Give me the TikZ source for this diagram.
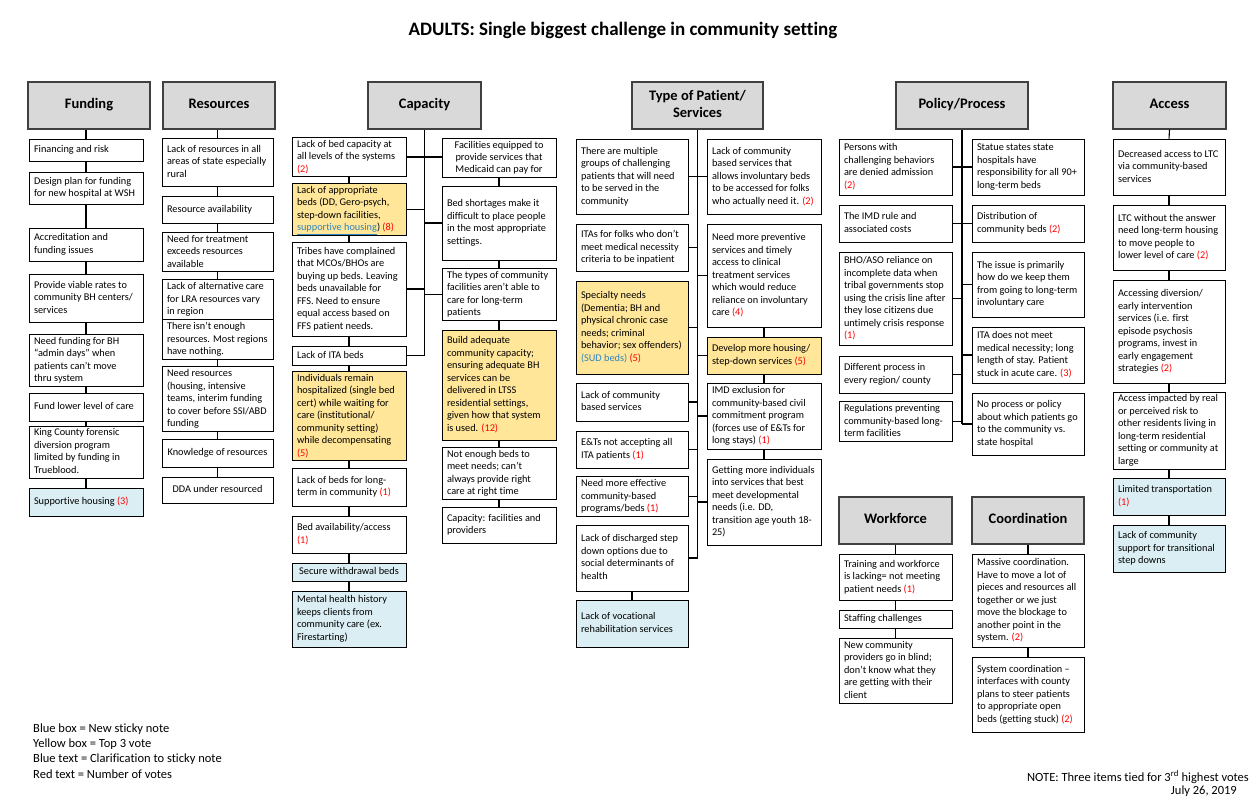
\documentclass[tikz,border=0pt]{standalone}
\usepackage{fontspec}
\setmainfont{Carlito}[Ligatures=NoCommon]
\definecolor{hdrfill}{HTML}{D9D9D9}
\definecolor{hdrline}{HTML}{404040}
\definecolor{yelfill}{HTML}{FFE699}
\definecolor{blufill}{HTML}{DAEEF3}
\definecolor{votered}{HTML}{FF0000}
\definecolor{clarblue}{HTML}{2E86C1}
\newcommand{\vote}[1]{\textcolor{votered}{#1}}
\newcommand{\clar}[1]{\textcolor{clarblue}{#1}}
\newcommand{\bx}[8]{%
  \pgfmathsetmacro{\bxw}{#4-#2}\pgfmathsetmacro{\bxh}{#5-#3}\pgfmathsetmacro{\bxt}{#4-#2-10}%
  \node[#6, minimum width=\bxw pt, minimum height=\bxh pt] (#1) at ({(#2+#4)/2},{(#3+#5)/2})
    {\makebox[\bxt pt][#7]{\begin{tabular}{@{}#7@{}}#8\end{tabular}}};}
\begin{document}
\begin{tikzpicture}[x=1pt,y=-1pt,
  item/.style={draw=black, line width=0.8pt, fill=white, inner xsep=5pt, inner ysep=1pt,
    font=\fontsize{10.3}{12.5}\selectfont},
  yel/.style={item, fill=yelfill},
  blu/.style={item, fill=blufill},
  hdr/.style={draw=hdrline, line width=1.2pt, fill=hdrfill, inner xsep=5pt,
    font=\bfseries\fontsize{14.5}{17}\selectfont},
  conn/.style={line width=1.1pt, draw=black},
  plain/.style={inner sep=0pt, font=\fontsize{12.5}{15}\selectfont}]
\useasboundingbox (0,0) rectangle (1249,797);

\node[inner sep=0pt, font=\bfseries\fontsize{19}{22}\selectfont] (title) at (623,30)
  {ADULTS: Single biggest challenge in community setting};

% ---------------- Funding
\bx{fh}{28}{82}{150}{129}{hdr}{c}{Funding}
\bx{f1}{29}{139}{143}{161}{item}{l}{Financing and risk}
\bx{f2}{29}{172}{143}{204}{item}{l}{Design plan for funding\\for new hospital at WSH}
\bx{f3}{29}{228}{143}{261}{item}{l}{Accreditation and\\funding issues}
\bx{f4}{29}{274}{143}{322}{item}{l}{Provide viable rates to\\community BH centers/\\services}
\bx{f5}{29}{337}{143}{384}{item}{l}{Need funding for BH\\“admin days” when\\patients can’t move\\thru system}
\bx{f6}{29}{393}{143}{421}{item}{l}{Fund lower level of care}
\bx{f7}{29}{426}{143}{478}{item}{l}{King County forensic\\diversion program\\limited by funding in\\Trueblood.}
\bx{f8}{29}{488}{143}{516}{blu}{l}{Supportive housing \vote{(3)}}

% ---------------- Resources
\bx{rh}{163}{82}{275}{129}{hdr}{c}{Resources}
\bx{r1}{162}{138}{273}{186}{item}{l}{Lack of resources in all\\areas of state especially\\rural}
\bx{r2}{162}{196}{273}{223}{item}{l}{Resource availability}
\bx{r3}{162}{233}{273}{271}{item}{l}{Need for treatment\\exceeds resources\\available}
\bx{r4}{162}{281}{273}{318}{item}{l}{Lack of alternative care\\for LRA resources vary\\in region}
\bx{r5}{162}{321}{273}{358}{item}{l}{There isn’t enough\\resources. Most regions\\have nothing.}
\bx{r6}{162}{368}{273}{430}{item}{l}{Need resources\\(housing, intensive\\teams, interim funding\\to cover before SSI/ABD\\funding}
\bx{r7}{162}{439}{273}{467}{item}{c}{Knowledge of resources}
\bx{r8}{162}{477}{273}{503}{item}{c}{DDA under resourced}

% ---------------- Capacity
\bx{ch}{368}{82}{481}{129}{hdr}{c}{Capacity}
\bx{cl1}{292}{138}{406}{176}{item}{l}{Lack of bed capacity at\\all levels of the systems\\\vote{(2)}}
\bx{cl2}{292}{186}{406}{233}{yel}{l}{Lack of appropriate\\beds (DD, Gero-psych,\\step-down facilities,\\\clar{\underline{supportive housing}}) \vote{(8)}}
\bx{cl3}{292}{242}{406}{336}{item}{l}{Tribes have complained\\that MCOs/BHOs are\\buying up beds. Leaving\\beds unavailable for\\FFS. Need to ensure\\equal access based on\\FFS patient needs.}
\bx{cl4}{292}{346}{406}{365}{item}{l}{Lack of ITA beds}
\bx{cl5}{292}{374}{406}{458}{yel}{l}{Individuals remain\\hospitalized (single bed\\cert) while waiting for\\care (institutional/\\community setting)\\while decompensating\\\vote{(5)}}
\bx{cl6}{292}{468}{406}{506}{item}{l}{Lack of beds for long-\\term in community \vote{(1)}}
\bx{cl7}{292}{516}{406}{553}{item}{l}{Bed availability/access\\\vote{(1)}}
\bx{cl8}{292}{563}{406}{581}{blu}{c}{Secure withdrawal beds}
\bx{cl9}{292}{591}{406}{647}{blu}{l}{Mental health history\\keeps clients from\\community care (ex.\\Firestarting)}
\bx{cr1}{442}{139}{556}{177}{item}{c}{Facilities equipped to\\provide services that\\Medicaid can pay for}
\bx{cr2}{442}{186}{556}{260}{item}{l}{Bed shortages make it\\difficult to place people\\in the most appropriate\\settings.}
\bx{cr3}{442}{271}{556}{318}{item}{l}{The types of community\\facilities aren’t able to\\care for long-term\\patients}
\bx{cr4}{442}{330}{556}{440}{yel}{l}{Build adequate\\community capacity;\\ensuring adequate BH\\services can be\\delivered in LTSS\\residential settings,\\given how that system\\is used. \vote{(12)}}
\bx{cr5}{442}{450}{556}{497}{item}{l}{Not enough beds to\\meet needs; can’t\\always provide right\\care at right time}
\bx{cr6}{442}{507}{556}{543}{item}{l}{Capacity: facilities and\\providers}

% ---------------- Type of Patient / Services
\bx{th}{632}{82}{763}{129}{hdr}{c}{Type of Patient/\\Services}
\bx{tl1}{576}{139}{688}{214}{item}{l}{There are multiple\\groups of challenging\\patients that will need\\to be served in the\\community}
\bx{tl2}{576}{224}{688}{271}{item}{l}{ITAs for folks who don’t\\meet medical necessity\\criteria to be inpatient}
\bx{tl3}{576}{281}{688}{374}{yel}{l}{Specialty needs\\(Dementia; BH and\\physical chronic case\\needs; criminal\\behavior; sex offenders)\\\clar{(SUD beds)} \vote{(5)}}
\bx{tl4}{576}{383}{688}{421}{item}{l}{Lack of community\\based services}
\bx{tl5}{576}{431}{688}{468}{item}{l}{E\&Ts not accepting all\\ITA patients \vote{(1)}}
\bx{tl6}{576}{478}{688}{515}{item}{l}{Need more effective\\community-based\\programs/beds \vote{(1)}}
\bx{tl7}{576}{525}{688}{591}{item}{l}{Lack of discharged step\\down options due to\\social determinants of\\health}
\bx{tl8}{576}{600}{688}{647}{blu}{l}{Lack of vocational\\rehabilitation services}
\bx{tr1}{707}{139}{821}{214}{item}{l}{Lack of community\\based services that\\allows involuntary beds\\to be accessed for folks\\who actually need it. \vote{(2)}}
\bx{tr2}{707}{224}{821}{327}{item}{l}{Need more preventive\\services and timely\\access to clinical\\treatment services\\which would reduce\\reliance on involuntary\\care \vote{(4)}}
\bx{tr3}{707}{337}{821}{374}{yel}{l}{Develop more housing/\\step-down services \vote{(5)}}
\bx{tr4}{707}{383}{821}{449}{item}{l}{IMD exclusion for\\community-based civil\\commitment program\\(forces use of E\&Ts for\\long stays) \vote{(1)}}
\bx{tr5}{707}{459}{821}{545}{item}{l}{Getting more individuals\\into services that best\\meet developmental\\needs (i.e. DD,\\transition age youth 18-\\25)}

% ---------------- Policy / Process
\bx{ph}{896}{82}{1028}{129}{hdr}{c}{Policy/Process}
\bx{pl1}{839}{139}{952}{195}{item}{l}{Persons with\\challenging behaviors\\are denied admission\\\vote{(2)}}
\bx{pl2}{839}{205}{952}{242}{item}{l}{The IMD rule and\\associated costs}
\bx{pl3}{839}{252}{952}{345}{item}{l}{BHO/ASO reliance on\\incomplete data when\\tribal governments stop\\using the crisis line after\\they lose citizens due\\untimely crisis response\\\vote{(1)}}
\bx{pl4}{839}{356}{952}{393}{item}{l}{Different process in\\every region/ county}
\bx{pl5}{839}{403}{952}{440}{item}{l}{Regulations preventing\\community-based long-\\term facilities}
\bx{pr1}{972}{139}{1084}{195}{item}{l}{Statue states state\\hospitals have\\responsibility for all 90+\\long-term beds}
\bx{pr2}{972}{205}{1084}{242}{item}{l}{Distribution of\\community beds \vote{(2)}}
\bx{pr3}{972}{252}{1084}{317}{item}{l}{The issue is primarily\\how do we keep them\\from going to long-term\\involuntary care}
\bx{pr4}{972}{327}{1084}{383}{item}{l}{ITA does not meet\\medical necessity; long\\length of stay. Patient\\stuck in acute care. \vote{(3)}}
\bx{pr5}{972}{393}{1084}{455}{item}{l}{No process or policy\\about which patients go\\to the community vs.\\state hospital}

% ---------------- Workforce
\bx{wh}{839}{497}{952}{544}{hdr}{c}{Workforce}
\bx{w1}{839}{554}{952}{600}{item}{l}{Training and workforce\\is lacking= not meeting\\patient needs \vote{(1)}}
\bx{w2}{839}{610}{952}{628}{item}{l}{Staffing challenges}
\bx{w3}{839}{638}{952}{703}{item}{l}{New community\\providers go in blind;\\don’t know what they\\are getting with their\\client}

% ---------------- Coordination
\bx{kh}{972}{497}{1084}{544}{hdr}{c}{Coordination}
\bx{k1}{972}{554}{1084}{647}{item}{l}{Massive coordination.\\Have to move a lot of\\pieces and resources all\\together or we just\\move the blockage to\\another point in the\\system. \vote{(2)}}
\bx{k2}{972}{657}{1084}{732}{item}{l}{System coordination –\\interfaces with county\\plans to steer patients\\to appropriate open\\beds (getting stuck) \vote{(2)}}

% ---------------- Access
\bx{ah}{1113}{82}{1226}{129}{hdr}{c}{Access}
\bx{a1}{1113}{139}{1225}{195}{item}{l}{Decreased access to LTC\\via community-based\\services}
\bx{a2}{1113}{205}{1225}{270}{item}{l}{LTC without the answer\\need long-term housing\\to move people to\\lower level of care \vote{(2)}}
\bx{a3}{1113}{280}{1225}{383}{item}{l}{Accessing diversion/\\early intervention\\services (i.e. first\\episode psychosis\\programs, invest in\\early engagement\\strategies \vote{(2)}}
\bx{a4}{1113}{393}{1225}{468}{item}{l}{Access impacted by real\\or perceived risk to\\other residents living in\\long-term residential\\setting or community at\\large}
\bx{a5}{1113}{478}{1225}{515}{blu}{l}{Limited transportation\\\vote{(1)}}
\bx{a6}{1113}{525}{1225}{572}{blu}{l}{Lack of community\\support for transitional\\step downs}

% ---------------- connectors
% Funding
\draw[conn] (f1.north) -- (f1.north |- fh.south);
\foreach \a/\b in {f1/f2,f2/f3,f3/f4,f4/f5,f5/f6,f6/f7,f7/f8} \draw[conn] (\a.south) -- (\b.north);
% Resources
\draw[conn] (r1.north) -- (r1.north |- rh.south);
\foreach \a/\b in {r1/r2,r2/r3,r3/r4,r4/r5,r5/r6,r6/r7,r7/r8} \draw[conn] (\a.south) -- (\b.north);
% Capacity
\draw[conn] (ch.south) -- (ch.south |- cl4.east);
\draw[conn] (cl1.east) -- (cl1.east -| cr1.west);
\foreach \n in {cl2,cl3,cl4} \draw[conn] (\n.east) -- (\n.east -| ch.south);
\foreach \n in {cr2,cr3} \draw[conn] (ch.south |- \n.west) -- (\n.west);
\foreach \a/\b in {cl1/cl2,cl2/cl3,cl3/cl4,cl4/cl5,cl5/cl6,cl6/cl7,cl7/cl8,cl8/cl9} \draw[conn] (\a.south) -- (\b.north);
\foreach \a/\b in {cr1/cr2,cr2/cr3,cr3/cr4,cr4/cr5,cr5/cr6} \draw[conn] (\a.south) -- (\b.north);
% Type of patient
\draw[conn] (th.south) -- (th.south |- tl7.east);
\draw[conn] (tl1.east) -- (tr1.west);
\foreach \n in {tl2,tl3,tl4,tl5,tl6,tl7} \draw[conn] (\n.east) -- (\n.east -| th.south);
\foreach \n in {tr2,tr3,tr4,tr5} \draw[conn] (th.south |- \n.west) -- (\n.west);
\draw[conn] (tl7.south) -- (tl8.north);
\foreach \a/\b in {tr2/tr3,tr3/tr4,tr4/tr5} \draw[conn] (\a.south) -- (\b.north);
% Policy
\draw[conn] (ph.south) -- (ph.south |- pr5.west);
\draw[conn] (pl1.east) -- (pr1.west);
\draw[conn] (pl2.east) -- (pr2.west);
\foreach \n in {pl3,pl4,pl5} \draw[conn] (\n.east) -- (\n.east -| ph.south);
\foreach \n in {pr3,pr4,pr5} \draw[conn] (ph.south |- \n.west) -- (\n.west);
% Workforce / Coordination
\foreach \a/\b in {wh/w1,w1/w2,w2/w3,kh/k1,k1/k2} \draw[conn] (\a.south) -- (\b.north);
% Access
\foreach \a/\b in {ah/a1,a1/a2,a2/a3,a3/a4,a4/a5,a5/a6} \draw[conn] (\a.south) -- (\b.north);

% ---------------- legend and note
\node[plain, anchor=west] (lg1) at (33,729) {Blue box = New sticky note};
\node[plain, anchor=west] (lg2) at (33,744) {Yellow box = Top 3 vote};
\node[plain, anchor=west] (lg3) at (33,759) {Blue text = Clarification to sticky note};
\node[plain, anchor=west] (lg4) at (33,774) {Red text = Number of votes};
\node[plain, anchor=east] (note) at (1249,777) {NOTE: Three items tied for 3\textsuperscript{rd} highest votes};
\node[plain, anchor=east] (date) at (1237,791) {July 26, 2019};
\end{tikzpicture}
\end{document}
